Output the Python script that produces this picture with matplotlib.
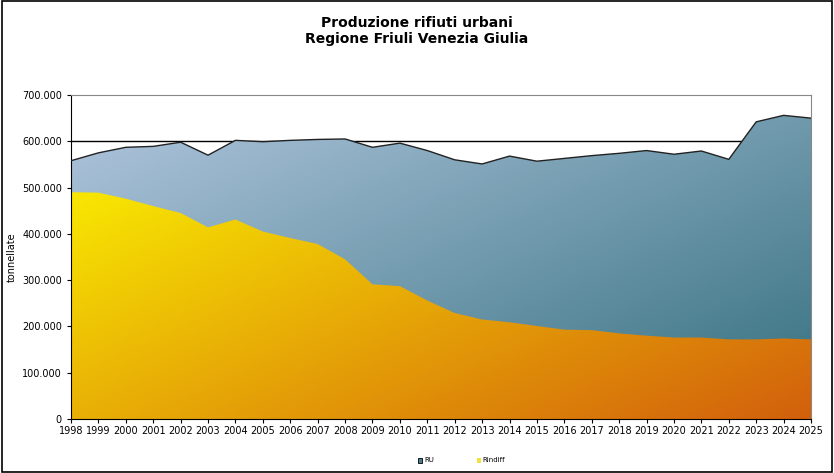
import matplotlib.pyplot as plt
import numpy as np
from matplotlib.colors import LinearSegmentedColormap
from matplotlib.patches import Polygon, Rectangle
from matplotlib.ticker import FuncFormatter

anni = list(range(1998, 2026))
ru = [558, 575, 587, 589, 598, 570, 602, 599, 602, 604, 605, 587, 596, 580,
      560, 551, 568, 557, 563, 569, 574, 580, 572, 579, 561, 642, 656, 650]
rindiff = [490, 489, 476, 460, 445, 414, 431, 405, 391, 378, 345, 291, 287, 256,
           229, 215, 209, 201, 193, 192, 185, 180, 176, 176, 172, 172, 174, 172]
ru = [v * 1000 for v in ru]
rindiff = [v * 1000 for v in rindiff]

fig = plt.figure(figsize=(8.34, 4.73), dpi=100)
ax = fig.add_axes([71 / 834, 1 - 419 / 473, 740 / 834, 324 / 473])
ax.set_xlim(anni[0], anni[-1])
ax.set_ylim(0, 700000)


def gradient_fill(x, y, c1, c2):
    verts = list(zip(x, y)) + [(x[-1], 0), (x[0], 0)]
    poly = Polygon(verts, closed=True, facecolor="none", edgecolor="none")
    ax.add_patch(poly)
    cmap = LinearSegmentedColormap.from_list("g", [c1, c2])
    xx, yy = np.meshgrid(np.linspace(0, 1, 200), np.linspace(1, 0, 200))
    grad = (xx + (1 - yy)) / 2
    im = ax.imshow(grad, cmap=cmap, extent=[anni[0], anni[-1], 0, 700000],
                   aspect="auto", origin="upper", zorder=2)
    im.set_clip_path(poly)


ax.axhline(600000, color="black", lw=1, zorder=1)
gradient_fill(anni, ru, "#b4c8e0", "#34707f")
gradient_fill(anni, rindiff, "#ffff00", "#d2600c")
ax.plot(anni, ru, color="#222222", lw=1, zorder=3)

ax.set_xticks(anni)
ax.set_xticklabels([str(a) for a in anni], fontsize=7)
ax.set_yticks(range(0, 700001, 100000))
ax.yaxis.set_major_formatter(FuncFormatter(lambda v, p: f"{int(v):,}".replace(",", ".")))
ax.tick_params(axis="y", labelsize=7, length=3)
ax.tick_params(axis="x", length=3, pad=2)
ax.set_ylabel("tonnellate", fontsize=7)
for s in ["top", "right"]:
    ax.spines[s].set_color("#888888")

fig.text(0.5, 0.935, "Produzione rifiuti urbani\nRegione Friuli Venezia Giulia",
         ha="center", va="center", fontsize=10, fontweight="bold")

# legenda
fig.patches.append(Rectangle((418 / 834, 1 - 463 / 473), 4 / 834, 5 / 473,
                             transform=fig.transFigure, facecolor="#4a7f92",
                             edgecolor="black", lw=0.6))
fig.text(424 / 834, 1 - 460 / 473, "RU", fontsize=5, va="center")
fig.patches.append(Rectangle((477 / 834, 1 - 463 / 473), 4 / 834, 5 / 473,
                             transform=fig.transFigure, facecolor="#f0e040",
                             edgecolor="none"))
fig.text(482 / 834, 1 - 460 / 473, "Rindiff", fontsize=5, va="center")

fig.patches.append(Rectangle((0.002, 0.003), 0.996, 0.994, transform=fig.transFigure,
                             facecolor="none", edgecolor="black", lw=1.2))

plt.savefig("out.png", dpi=100)
